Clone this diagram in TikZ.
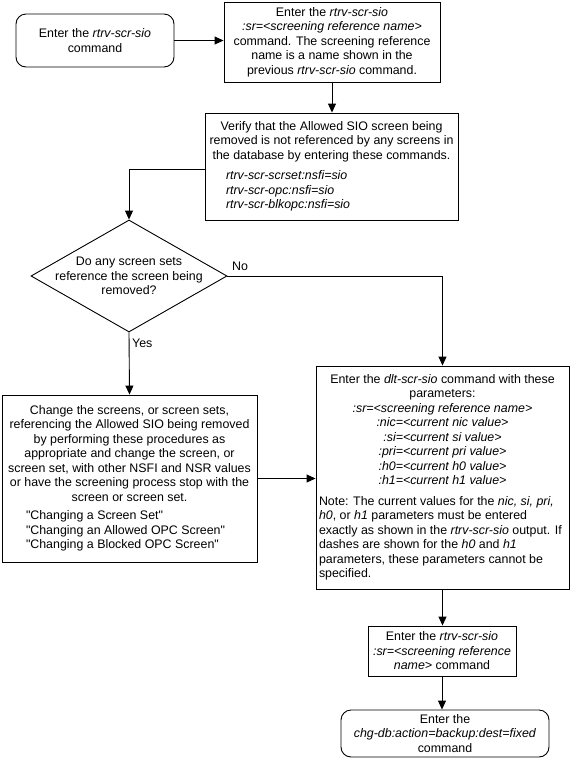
\documentclass[tikz,border=0pt]{standalone}
\usepackage{fontspec}
\setmainfont{Liberation Sans}
\newfontfamily\plainq{Liberation Sans}
\newcommand{\sq}{{\plainq"}}
\usetikzlibrary{shapes.geometric,arrows.meta}
\begin{document}
\begin{tikzpicture}[x=1pt,y=-1pt,
  every node/.style={font=\fontsize{12.4}{14.5}\selectfont, inner sep=0pt},
  procbox/.style={draw, line width=0.9pt, align=center},
  termbox/.style={draw, line width=0.9pt, align=center, rounded corners=10pt},
  diam/.style={draw, line width=0.9pt, diamond, aspect=1.75},
  arr/.style={-{Triangle[length=9pt,width=8pt]}, line width=0.9pt},
  lbl/.style={anchor=west}
]
\useasboundingbox (0,0) rectangle (572,761);

\node[termbox, minimum width=158pt, minimum height=53pt] (b1) at (95,40.5)
  {Enter the \textit{rtrv-scr-sio}\\command};

\node[procbox, minimum width=216pt, minimum height=80pt] (b2) at (332,42)
  {Enter the \textit{rtrv-scr-sio}\\
   \textit{:sr=<screening reference name>}\\
   command. The screening reference\\
   name is a name shown in the\\
   previous \textit{rtrv-scr-sio} command.};

\node[procbox, minimum width=253pt, minimum height=107pt] (ver) at (331.5,166.5)
  {Verify that the Allowed SIO screen being\\
   removed is not referenced by any screens in\\
   the database by entering these commands.\\[6pt]
   \makebox[253pt][l]{\hspace{21pt}\textit{rtrv-scr-scrset:nsfi=sio}}\\
   \makebox[253pt][l]{\hspace{21pt}\textit{rtrv-scr-opc:nsfi=sio}}\\
   \makebox[253pt][l]{\hspace{21pt}\textit{rtrv-scr-blkopc:nsfi=sio}}};

\node[diam, minimum width=196pt, minimum height=112pt] (dia) at (129,276) {};
\node[align=center] (diatext) at (dia.center)
  {Do any screen sets\\reference the screen being\\removed?};

\node[procbox, minimum width=255pt, minimum height=167pt] (chg) at (129.5,478.5)
  {Change the screens, or screen sets,\\
   referencing the Allowed SIO being removed\\
   by performing these procedures as\\
   appropriate and change the screen, or\\
   screen set, with other NSFI and NSR values\\
   or have the screening process stop with the\\
   screen or screen set.\\[4pt]
   \makebox[255pt][l]{\hspace{24pt}\sq Changing a Screen Set\sq}\\
   \makebox[255pt][l]{\hspace{24pt}\sq Changing an Allowed OPC Screen\sq}\\
   \makebox[255pt][l]{\hspace{24pt}\sq Changing a Blocked OPC Screen\sq}};

\node[procbox, minimum width=253pt, minimum height=223pt] (dlt) at (442.5,477.5)
  {Enter the \textit{dlt-scr-sio} command with these\\
   parameters:\\
   \textit{:sr=<screening reference name>}\\
   \textit{:nic=<current nic value>}\\
   \textit{:si=<current si value>}\\
   \textit{:pri=<current pri value>}\\
   \textit{:h0=<current h0 value>}\\
   \textit{:h1=<current h1 value>}\\[6pt]
   \makebox[253pt][l]{\hspace{3pt}Note: The current values for the \textit{nic, si, pri,}}\\
   \makebox[253pt][l]{\hspace{3pt}\textit{h0}, or \textit{h1} parameters must be entered}\\
   \makebox[253pt][l]{\hspace{3pt}exactly as shown in the \textit{rtrv-scr-sio} output. If}\\
   \makebox[253pt][l]{\hspace{3pt}dashes are shown for the \textit{h0} and \textit{h1}}\\
   \makebox[253pt][l]{\hspace{3pt}parameters, these parameters cannot be}\\
   \makebox[253pt][l]{\hspace{3pt}specified.}};

\node[procbox, minimum width=148pt, minimum height=50pt] (rtrv) at (442,651)
  {Enter the \textit{rtrv-scr-sio}\\
   \textit{:sr=<screening reference}\\
   \textit{name>} command};

\node[termbox, minimum width=208pt, minimum height=47pt] (fin) at (445,733.5)
  {Enter the\\
   \textit{chg-db:action=backup:dest=fixed}\\
   command};

\draw[arr] (b1.east) -- (b1.east -| b2.west);
\draw[arr] (b2.south) -- (b2.south |- ver.north);
\draw[arr] (ver.west |- 0,169) -| (dia.north);
\draw[arr] (dia.east) -| (dlt.north);
\draw[arr] (dia.south) -- (chg.north);
\draw[arr] (chg.east) -- (chg.east -| dlt.west);
\draw[arr] (dlt.south) -- (dlt.south |- rtrv.north);
\draw[arr] (rtrv.south) -- (rtrv.south |- fin.north);

\node[lbl] (no) at (232,266) {No};
\node[lbl] (yes) at (132,343) {Yes};
\end{tikzpicture}
\end{document}
